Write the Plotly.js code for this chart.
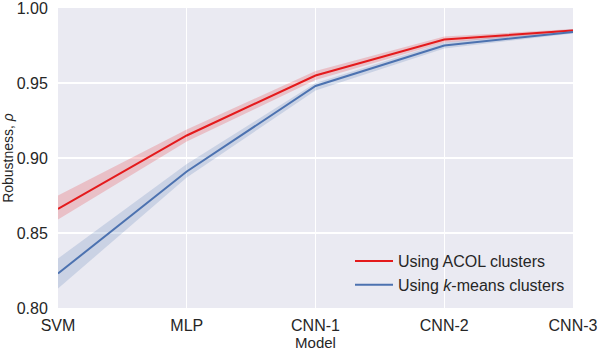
<!DOCTYPE html>
<html>
<head>
<meta charset="utf-8">
<script src="https://cdn.plot.ly/plotly-3.0.1.min.js"></script>
<style>
  html, body { margin: 0; padding: 0; background: #fff; }
  #myPlot { width: 598px; height: 351px; }
</style>
</head>
<body>
<div id="myPlot"></div>
<script>
// Stored Data
var models = ["SVM", "MLP", "CNN-1", "CNN-2", "CNN-3"];

var acolMean = [0.866, 0.915, 0.955, 0.979, 0.985];
var acolLow  = [0.859, 0.911, 0.952, 0.977, 0.984];
var acolHigh = [0.875, 0.919, 0.958, 0.981, 0.986];

var kmeansMean = [0.823, 0.891, 0.948, 0.975, 0.984];
var kmeansLow  = [0.813, 0.887, 0.945, 0.973, 0.983];
var kmeansHigh = [0.833, 0.896, 0.950, 0.977, 0.986];

var yTicks = [0.80, 0.85, 0.90, 0.95, 1.00];

var red = "#e41a1c";
var blue = "#4c72b0";

var xIdx = models.map(function (m, i) { return i; });

// band polygon: upper edge forward, lower edge backward
function band(low, high, fillColor) {
  return {
    x: xIdx.concat(xIdx.slice().reverse()),
    y: high.concat(low.slice().reverse()),
    fill: "toself",
    fillcolor: fillColor,
    line: { width: 0, color: "rgba(0,0,0,0)" },
    mode: "lines",
    hoverinfo: "skip",
    showlegend: false
  };
}

var data = [
  band(kmeansLow, kmeansHigh, "rgba(76,114,176,0.2)"),
  band(acolLow, acolHigh, "rgba(228,26,28,0.2)"),
  {
    x: xIdx, y: acolMean, mode: "lines", name: "Using ACOL clusters",
    line: { color: red, width: 2 }
  },
  {
    x: xIdx, y: kmeansMean, mode: "lines", name: "Using <i>k</i>-means clusters",
    line: { color: blue, width: 2 }
  }
];

var layout = {
  width: 598,
  height: 351,
  margin: { l: 58, r: 25, t: 8, b: 43 },
  paper_bgcolor: "#ffffff",
  plot_bgcolor: "#eaeaf2",
  font: { family: "Liberation Sans, Arial, sans-serif", color: "#262626" },
  xaxis: {
    range: [0, 4],
    tickmode: "array",
    tickvals: xIdx,
    ticktext: models,
    showgrid: true,
    gridcolor: "#ffffff",
    gridwidth: 1.2,
    zeroline: false,
    showline: false,
    ticks: "outside",
    ticklen: 3,
    tickcolor: "rgba(0,0,0,0)",
    tickfont: { size: 16 },
    ticklabeloverflow: "allow",
    title: { text: "Model", font: { size: 15 }, standoff: 1 }
  },
  yaxis: {
    range: [0.80, 1.00],
    tickmode: "array",
    tickvals: yTicks,
    ticktext: yTicks.map(function (v) { return v.toFixed(2); }),
    showgrid: true,
    gridcolor: "#ffffff",
    gridwidth: 1.2,
    zeroline: false,
    showline: false,
    ticks: "outside",
    ticklen: 6,
    tickcolor: "rgba(0,0,0,0)",
    tickfont: { size: 16 },
    ticklabeloverflow: "allow",
    title: { text: "Robustness, <i>ρ</i>", font: { size: 14 }, standoff: 6 }
  },
  legend: {
    x: 0.567,
    y: 0.02,
    xanchor: "left",
    yanchor: "bottom",
    bgcolor: "rgba(0,0,0,0)",
    borderwidth: 0,
    itemwidth: 38,
    font: { size: 16 },
    tracegroupgap: 0
  },
  showlegend: true
};

Plotly.newPlot("myPlot", data, layout, { displayModeBar: false, staticPlot: true });
</script>
</body>
</html>
